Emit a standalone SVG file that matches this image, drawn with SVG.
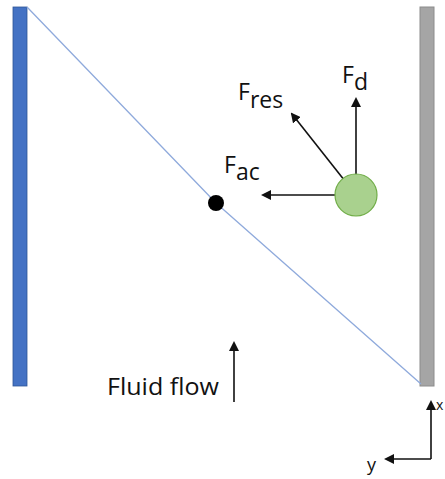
<svg xmlns="http://www.w3.org/2000/svg" width="445" height="479" viewBox="0 0 445 479">
<style>
text{font-family:"Open Sans","Liberation Sans",sans-serif;fill:#111;}
.f{font-size:23px;}
.arr{stroke:#111;stroke-width:1.6;fill:none;marker-end:url(#ah);}
</style>
<defs>
<marker id="ah" markerWidth="10" markerHeight="10" refX="8" refY="5" orient="auto" markerUnits="userSpaceOnUse">
<path d="M0,0 L10,5 L0,10 Z" fill="#111"/>
</marker>
</defs>
<rect width="445" height="479" fill="#fff"/>
<g id="left-wall"><rect x="13" y="7" width="14" height="379" fill="#4472c4" stroke="#2f5597" stroke-width="0.8"/></g>
<g id="right-wall"><rect x="420" y="7" width="14" height="379" fill="#a5a5a5" stroke="#8c8c8c" stroke-width="1"/></g>
<g id="connectors">
<polyline points="27,7 216,203 421,384" fill="none" stroke="#8faadc" stroke-width="1.3"/>
<line class="arr" x1="356" y1="195" x2="356" y2="99"/>
<line class="arr" x1="356" y1="195" x2="292" y2="114"/>
<line class="arr" x1="356" y1="195" x2="263" y2="195"/>
<line class="arr" x1="234" y1="402" x2="234" y2="343"/>
<line class="arr" x1="431" y1="459" x2="431" y2="402"/>
<line class="arr" x1="431" y1="459" x2="386" y2="459"/>
</g>
<g id="particle"><circle cx="356" cy="195" r="21" fill="#a9d18e" stroke="#70ad47" stroke-width="1.2"/></g>
<g id="node-point"><circle cx="216" cy="203" r="8" fill="#000"/></g>
<g id="labels">
<text class="f" x="342" y="83">F<tspan dy="7">d</tspan></text>
<text class="f" x="238" y="100">F<tspan dy="8">res</tspan></text>
<text class="f" x="224" y="173">F<tspan dy="7">ac</tspan></text>
<text x="107" y="395" font-size="24" textLength="112" lengthAdjust="spacingAndGlyphs">Fluid flow</text>
<text x="436" y="410" font-size="14">x</text>
<text x="367" y="471" font-size="18">y</text>
</g>
</svg>
